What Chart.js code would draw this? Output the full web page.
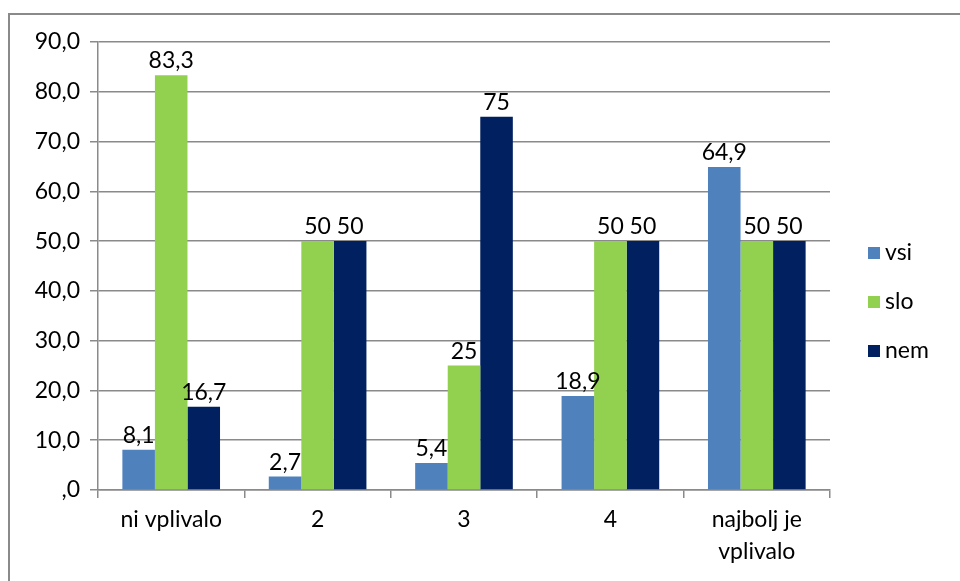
<!DOCTYPE html>
<html>
<head>
<meta charset="utf-8">
<script src="https://cdn.jsdelivr.net/npm/chart.js@4/dist/chart.umd.min.js"></script>
<style>
  html, body { margin: 0; padding: 0; background: #fff; overflow: hidden; }
  #wrap { position: relative; width: 960px; height: 581px; }
  #frame { position: absolute; left: 8px; top: 13px; width: 970px; height: 600px;
           border: 2px solid #8a8a8a; box-sizing: border-box; pointer-events: none; }
  canvas { position: absolute; left: 0; top: 0; }
</style>
</head>
<body>
<div id="wrap">
  <div id="frame"></div>
  <canvas id="c" width="960" height="581"></canvas>
</div>
<script>
const categories = ['ni vplivalo', '2', '3', '4', ['najbolj je', 'vplivalo']];
const seriesNames = ['vsi', 'slo', 'nem'];
const vsiValues = [8.1, 2.7, 5.4, 18.9, 64.9];
const sloValues = [83.3, 50, 25, 50, 50];
const nemValues = [16.7, 50, 75, 50, 50];
const yTickLabels = [',0', '10,0', '20,0', '30,0', '40,0', '50,0', '60,0', '70,0', '80,0', '90,0'];
const seriesColors = ['#4F81BD', '#92D050', '#002060'];

const FONT = 'Lato';
const FSIZE = 23;
Chart.defaults.font.family = FONT;
Chart.defaults.font.size = FSIZE;
Chart.defaults.color = '#000';

const dataLabels = {
  id: 'dataLabels',
  afterDatasetsDraw(chart) {
    const ctx = chart.ctx;
    ctx.save();
    ctx.font = FSIZE + 'px ' + FONT;
    ctx.fillStyle = '#000';
    ctx.textAlign = 'center';
    ctx.textBaseline = 'alphabetic';
    chart.data.datasets.forEach((ds, di) => {
      const meta = chart.getDatasetMeta(di);
      meta.data.forEach((bar, i) => {
        const txt = String(ds.data[i]).replace('.', ',');
        ctx.fillText(txt, bar.x, bar.y - 7);
      });
    });
    ctx.restore();
  }
};

const customLegend = {
  id: 'customLegend',
  afterDraw(chart) {
    const ctx = chart.ctx;
    ctx.save();
    ctx.font = FSIZE + 'px ' + FONT;
    ctx.textBaseline = 'middle';
    ctx.textAlign = 'left';
    const x0 = chart.chartArea.right + 38;
    const yMid = (chart.chartArea.top + chart.chartArea.bottom) / 2 + 36;
    const gap = 49;
    const n = chart.data.datasets.length;
    chart.data.datasets.forEach((ds, i) => {
      const y = yMid + (i - (n - 1) / 2) * gap;
      ctx.fillStyle = ds.backgroundColor;
      ctx.fillRect(x0, y - 6, 12, 12);
      ctx.fillStyle = '#000';
      ctx.fillText(ds.label, x0 + 17, y);
    });
    ctx.restore();
  }
};

new Chart(document.getElementById('c'), {
  type: 'bar',
  data: {
    labels: categories,
    datasets: [
      { label: seriesNames[0], data: vsiValues, backgroundColor: seriesColors[0] },
      { label: seriesNames[1], data: sloValues, backgroundColor: seriesColors[1] },
      { label: seriesNames[2], data: nemValues, backgroundColor: seriesColors[2] }
    ]
  },
  options: {
    responsive: false,
    animation: false,
    layout: { padding: { top: 42, right: 130, bottom: 0, left: 0 } },
    datasets: { bar: { categoryPercentage: 0.667, barPercentage: 1.0 } },
    plugins: { legend: { display: false }, tooltip: { enabled: false } },
    scales: {
      x: {
        grid: { offset: true, drawOnChartArea: false, drawTicks: true, tickLength: 8, color: '#8a8a8a', lineWidth: 1.5 },
        border: { color: '#8a8a8a', width: 1.5 },
        ticks: { padding: 6, maxRotation: 0, autoSkip: false, font: { size: FSIZE, lineHeight: 1.38 } },
        afterFit(scale) { scale.height = 91; }
      },
      y: {
        min: 0, max: 90,
        grid: { color: '#8a8a8a', lineWidth: 1.5, tickLength: 8 },
        border: { color: '#8a8a8a', width: 1.5 },
        ticks: {
          stepSize: 10, padding: 10,
          callback: (v, i) => yTickLabels[i]
        },
        afterFit(scale) { scale.width = 98; }
      }
    }
  },
  plugins: [dataLabels, customLegend]
});
</script>
</body>
</html>
